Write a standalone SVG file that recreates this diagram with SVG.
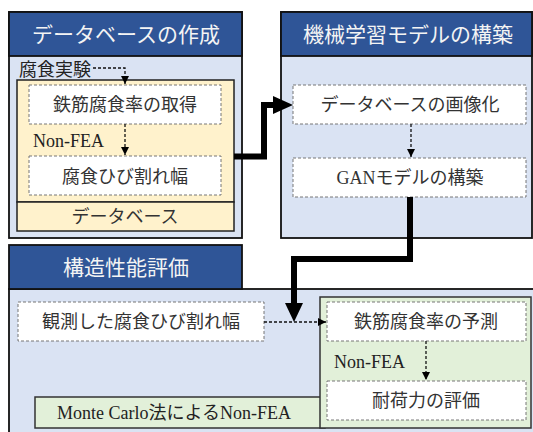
<svg xmlns="http://www.w3.org/2000/svg" width="533" height="432" viewBox="0 0 533 432">
<defs>
<style>
.hdr{fill:#2F5597;stroke:#111;stroke-width:1.8}
.body{fill:#DAE3F3;stroke:#111;stroke-width:1.8}
.yel{fill:#FFF2CC;stroke:#222;stroke-width:1.5}
.grn{fill:#E2F0D9;stroke:#333;stroke-width:1.5}
.wb{fill:#fff;stroke:#777;stroke-width:1;stroke-dasharray:3 2}
.ht{font-family:"Liberation Serif","Noto Sans CJK JP",serif;font-size:21px;fill:#F4F4F4;text-anchor:middle;dominant-baseline:central}
.t{font-family:"Liberation Serif","Noto Sans CJK JP",serif;font-size:18px;fill:#333;text-anchor:middle;dominant-baseline:central}
.ts{font-family:"Liberation Serif","Noto Sans CJK JP",serif;font-size:18px;fill:#222}
.dash{fill:none;stroke:#111;stroke-width:1.3;stroke-dasharray:3 2}
.thick{fill:none;stroke:#000;stroke-width:6;stroke-linejoin:miter}
</style>
<marker id="sa" viewBox="0 0 10 10" refX="10" refY="5" markerWidth="8" markerHeight="8" markerUnits="userSpaceOnUse" orient="auto">
<path d="M0,0 L10,5 L0,10 Z" fill="#000"/>
</marker>
</defs>

<g id="panel-db">
<rect class="body" x="9" y="12" width="233" height="226"/>
<rect class="hdr" x="9" y="12" width="233" height="44"/>
<text class="ht" x="126" y="35">データベースの作成</text>
<text class="ts" x="19" y="76">腐食実験</text>
<rect class="yel" x="17" y="80" width="217" height="122"/>
<rect class="yel" x="17" y="202" width="217" height="29"/>
<text class="t" x="125" y="217">データベース</text>
</g>
<g id="node-rate">
<rect class="wb" x="29" y="85" width="192" height="39"/>
<text class="t" x="125" y="105">鉄筋腐食率の取得</text>
</g>
<g id="node-crack">
<rect class="wb" x="29" y="156" width="192" height="39"/>
<text class="t" x="125" y="177">腐食ひび割れ幅</text>
</g>
<text class="ts" x="33" y="147">Non-FEA</text>

<g id="panel-ml">
<rect class="body" x="281" y="12" width="251" height="226"/>
<rect class="hdr" x="281" y="12" width="251" height="44"/>
<text class="ht" x="408" y="35">機械学習モデルの構築</text>
</g>
<g id="node-img">
<rect class="wb" x="293" y="85" width="233" height="39"/>
<text class="t" x="410" y="105">データベースの画像化</text>
</g>
<g id="node-gan">
<rect class="wb" x="293" y="158" width="233" height="39"/>
<text class="t" x="410" y="178">GANモデルの構築</text>
</g>

<g id="panel-eval">
<rect class="body" x="9" y="289" width="540" height="160"/>
<rect class="hdr" x="9" y="245" width="233" height="44"/>
<text class="ht" x="126" y="268">構造性能評価</text>
<rect class="grn" x="35" y="397" width="290" height="31"/>
<text class="ts" x="57" y="419">Monte Carlo法によるNon-FEA</text>
<rect class="grn" x="320" y="297" width="211" height="131"/>
<text class="ts" x="334" y="368">Non-FEA</text>
</g>
<g id="node-obs">
<rect class="wb" x="18" y="302" width="246" height="39"/>
<text class="t" x="141" y="322">観測した腐食ひび割れ幅</text>
</g>
<g id="node-pred">
<rect class="wb" x="327" y="302" width="199" height="39"/>
<text class="t" x="426" y="322">鉄筋腐食率の予測</text>
</g>
<g id="node-cap">
<rect class="wb" x="327" y="381" width="199" height="39"/>
<text class="t" x="426" y="401">耐荷力の評価</text>
</g>

<g id="connectors">
<path class="dash" d="M93,68 H125 V84" marker-end="url(#sa)"/>
<path class="dash" d="M125,124 V155" marker-end="url(#sa)"/>
<path class="dash" d="M411,124 V157" marker-end="url(#sa)"/>
<path class="dash" d="M264,322 H326" marker-end="url(#sa)"/>
<path class="dash" d="M426,341 V380" marker-end="url(#sa)"/>
<path class="thick" d="M234,156.5 H264 V105 H275"/>
<polygon points="273,96 293,105 273,114" fill="#000"/>
<path class="thick" d="M410,197 V259 H294 V305"/>
<polygon points="285,303 303,303 294,322" fill="#000"/>
</g>
</svg>
